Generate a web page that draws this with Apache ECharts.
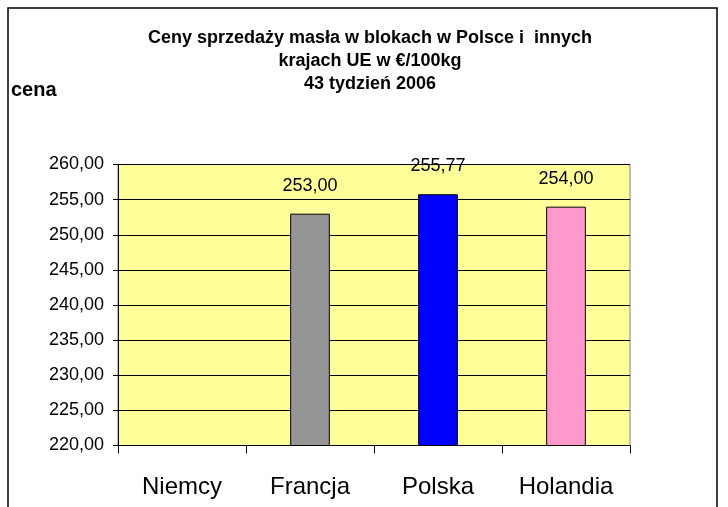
<!DOCTYPE html>
<html><head><meta charset="utf-8">
<script src="https://cdn.jsdelivr.net/npm/echarts@6/dist/echarts.min.js"></script>
<style>html,body{margin:0;padding:0;background:#fff}#c{width:728px;height:507px}</style>
</head><body><div id="c"></div>
<script>
const categories = ['Niemcy', 'Francja', 'Polska', 'Holandia'];
const values = [null, 253.00, 255.77, 254.00];
const barColors = ['#C0C0C0', '#969696', '#0000FF', '#FF99CC'];
const yMin = 220, yMax = 260, yStep = 5;

const chart = echarts.init(document.getElementById('c'), null, {renderer: 'canvas'});
const fmt = v => v.toFixed(2).replace('.', ',');
const FF = '"Liberation Sans", Arial';
chart.setOption({
  backgroundColor: '#fff',
  animation: false,
  graphic: [
    {type: 'rect', shape: {x: 8, y: 8, width: 709, height: 520}, style: {fill: 'none', stroke: '#000', lineWidth: 1.5}, z: 100},
    {type: 'text', left: 11, top: 80, style: {text: 'cena', font: 'bold 20px ' + FF, fill: '#000'}}
  ],
  title: {
    text: 'Ceny sprzedaży masła w blokach w Polsce i  innych\nkrajach UE w €/100kg\n43 tydzień 2006',
    left: 365, textAlign: 'center', top: 22,
    textStyle: {fontFamily: FF, fontWeight: 'bold', fontSize: 18, lineHeight: 23, color: '#000'}
  },
  grid: {left: 118, right: 98, top: 164.5, bottom: 61.5, show: true, backgroundColor: '#FFFF99', borderColor: '#808080', borderWidth: 1},
  xAxis: {
    type: 'category', data: categories,
    axisLine: {lineStyle: {color: '#000', width: 1}},
    axisTick: {show: true, length: 8, lineStyle: {color: '#000'}},
    axisLabel: {fontFamily: FF, fontSize: 24, color: '#000', margin: 30}
  },
  yAxis: {
    type: 'value', min: yMin, max: yMax, interval: yStep,
    axisLine: {show: true, lineStyle: {color: '#000', width: 1}},
    axisTick: {show: true, length: 5, lineStyle: {color: '#000'}},
    splitLine: {show: true, lineStyle: {color: '#000', width: 1}},
    axisLabel: {fontFamily: FF, fontSize: 18, color: '#000', margin: 14, formatter: v => fmt(v)}
  },
  series: [{
    type: 'bar', barWidth: '31%',
    data: values.map((v, i) => ({value: v, itemStyle: {color: barColors[i], borderColor: '#000', borderWidth: 1}})),
    label: {show: true, position: 'top', distance: 19, fontFamily: FF, fontSize: 18, color: '#000', formatter: p => fmt(p.value)}
  }]
});
</script></body></html>
